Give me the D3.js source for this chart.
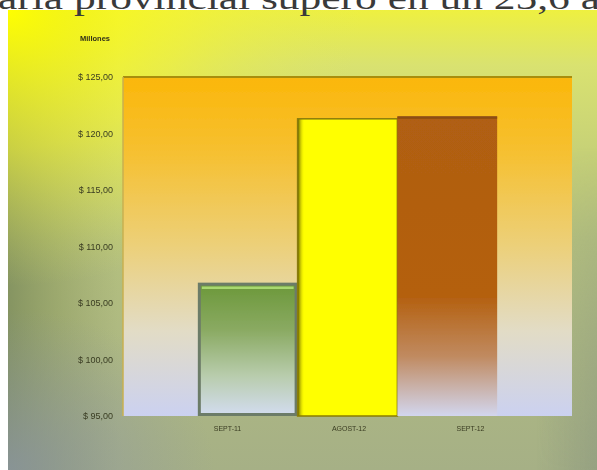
<!DOCTYPE html>
<html>
<head>
<meta charset="utf-8">
<style>
body { margin: 0px; background: #fff; }
svg { display: block; }
</style>
</head>
<body>
<div id="elm"></div>
<script src="https://cdn.jsdelivr.net/npm/d3@7/dist/d3.min.js"></script>
<script>
'use strict';

// data
var categories = ['SEPT-11', 'AGOST-12', 'SEPT-12'];
var values = [106.8, 121.3, 121.5];
var yTicks = [95, 100, 105, 110, 115, 120, 125];
var headline = 'aria provincial superó en un 25,6 a';
var unitLabel = 'Millones';

var W = 597, H = 470;
var svg = d3.select('#elm').append('svg').attr('width', W).attr('height', H);
var defs = svg.append('defs');

function linGrad(id, stops, x2, y2) {
  var g = defs.append('linearGradient').attr('id', id)
    .attr('x1', 0).attr('y1', 0).attr('x2', x2 || 0).attr('y2', y2 === undefined ? 1 : y2);
  stops.forEach(function (s) {
    g.append('stop').attr('offset', s[0]).attr('stop-color', s[1]).attr('stop-opacity', s[2] === undefined ? 1 : s[2]);
  });
  return 'url(#' + id + ')';
}

var bgFill = linGrad('bg', [[0, '#eef040'], [0.12, '#d9e270'], [0.5, '#b4c07e'], [1, '#a6b086']]);
var bgLeft = linGrad('bgl', [[0, '#7a8a5a', 0.8], [0.5, '#849258', 0.4], [1, '#8a9460', 0]], 1, 0);
var bgRight = linGrad('bgr', [[0, '#909c80', 0], [1, '#909c80', 0.75]], 1, 0);
var maskV = linGrad('mv', [[0, '#000'], [0.3, '#000'], [1, '#fff']]);
var plotFill = linGrad('plot', [[0, '#fbb70a'], [0.22, '#f6c030'], [0.5, '#ecd07a'], [0.75, '#e2dcc6'], [1, '#cbd1f0']]);
var bar1Fill = linGrad('b1', [[0, '#6c983a'], [0.35, '#8aaa62'], [0.7, '#b8ccac'], [1, '#d2dcee']]);
var bar2Edge = linGrad('b2e', [[0, '#5e5800'], [1, '#ffff00', 0]], 1, 0);
var bar3Fill = linGrad('b3', [[0, '#b05e12'], [0.6, '#b4600f'], [0.8, '#c08a60'], [1, '#d2d6ee']]);

var yellow = defs.append('radialGradient').attr('id', 'yl')
  .attr('cx', 0).attr('cy', 0).attr('r', 0.6);
yellow.append('stop').attr('offset', 0).attr('stop-color', '#ffff00').attr('stop-opacity', 1);
yellow.append('stop').attr('offset', 0.5).attr('stop-color', '#f4f430').attr('stop-opacity', 0.6);
yellow.append('stop').attr('offset', 1).attr('stop-color', '#e0e860').attr('stop-opacity', 0);

var bottomShade = defs.append('radialGradient').attr('id', 'bs')
  .attr('cx', 0).attr('cy', 1).attr('r', 0.35);
bottomShade.append('stop').attr('offset', 0).attr('stop-color', '#8a94a6').attr('stop-opacity', 0.75);
bottomShade.append('stop').attr('offset', 1).attr('stop-color', '#8a94a0').attr('stop-opacity', 0);

var blur = defs.append('filter').attr('id', 'soft');
blur.append('feGaussianBlur').attr('stdDeviation', 0.55);

var bw = W - 8, bh = H - 10;
defs.append('mask').attr('id', 'rightMask').attr('maskUnits', 'userSpaceOnUse')
  .append('rect').attr('x', bw - 60).attr('width', 60).attr('height', bh).attr('fill', maskV);

// photographed slide background
var bg = svg.append('g').attr('transform', 'translate(8,10)');
bg.append('rect').attr('width', bw).attr('height', bh).attr('fill', bgFill);
bg.append('rect').attr('width', 110).attr('height', bh).attr('fill', bgLeft);
bg.append('rect').attr('x', bw - 60).attr('width', 60).attr('height', bh).attr('fill', bgRight)
  .attr('mask', 'url(#rightMask)');
bg.append('rect').attr('width', bw).attr('height', bh).attr('fill', 'url(#bs)');
bg.append('rect').attr('width', bw).attr('height', bh).attr('fill', 'url(#yl)');

// headline cut off at the top
svg.append('text').attr('x', -2).attr('y', 9)
  .attr('font-family', "'Liberation Serif', 'DejaVu Serif', serif")
  .attr('font-size', 31).attr('fill', '#3a3a3a')
  .attr('textLength', 602).attr('lengthAdjust', 'spacingAndGlyphs')
  .text(headline);

var plot = { left: 123, right: 572, top: 77, bottom: 416 };

var y = d3.scaleLinear().domain([95, 125]).range([plot.bottom, plot.top]);
var x = d3.scaleBand().domain(categories).range([plot.left, plot.right])
  .paddingInner(0).paddingOuter(0.75);
// the labels sit a bit wider apart than the bars in the photo
var xl = d3.scalePoint().domain(categories).range([227, 470]);

var chart = svg.append('g').attr('filter', 'url(#soft)');

chart.append('rect')
  .attr('x', plot.left).attr('y', plot.top)
  .attr('width', plot.right - plot.left).attr('height', plot.bottom - plot.top)
  .attr('fill', plotFill);
chart.append('line')
  .attr('x1', plot.left).attr('x2', plot.right).attr('y1', plot.top).attr('y2', plot.top)
  .attr('stroke', '#a88e10').attr('stroke-width', 2);
chart.append('line')
  .attr('x1', plot.left).attr('x2', plot.left).attr('y1', plot.top).attr('y2', plot.bottom)
  .attr('stroke', '#c8b050').attr('stroke-width', 1.5);

var bars = chart.selectAll('g.bar').data(categories).enter().append('g').attr('class', 'bar');

bars.each(function (c, i) {
  var g = d3.select(this);
  var x0 = x(c), bwid = x.bandwidth(), top = y(values[i]), h = plot.bottom - top;
  if (i === 0) {
    g.append('rect').attr('x', x0 + 1.5).attr('y', top + 1.5).attr('width', bwid - 3).attr('height', h - 3)
      .attr('fill', bar1Fill).attr('stroke', '#6c7c68').attr('stroke-width', 3);
    g.append('line').attr('x1', x0 + 4).attr('x2', x0 + bwid - 4).attr('y1', top + 5).attr('y2', top + 5)
      .attr('stroke', '#a8d870').attr('stroke-width', 2.5);
  } else if (i === 1) {
    g.append('rect').attr('x', x0).attr('y', top).attr('width', bwid).attr('height', h)
      .attr('fill', '#ffff00');
    g.append('rect').attr('x', x0).attr('y', top).attr('width', 7).attr('height', h)
      .attr('fill', bar2Edge);
    g.append('rect').attr('x', x0).attr('y', top).attr('width', bwid).attr('height', h)
      .attr('fill', 'none').attr('stroke', '#8a7c08').attr('stroke-width', 1.5);
  } else {
    g.append('rect').attr('x', x0).attr('y', top).attr('width', bwid).attr('height', h)
      .attr('fill', bar3Fill);
    g.append('line').attr('x1', x0).attr('x2', x0 + bwid).attr('y1', top + 1).attr('y2', top + 1)
      .attr('stroke', '#8c4e12').attr('stroke-width', 2.5);
  }
});

var fmt = d3.format('.2f');
var yAxis = d3.axisLeft(y).tickValues(yTicks).tickSize(0).tickPadding(10)
  .tickFormat(function (d) { return '$ ' + fmt(d).replace('.', ','); });
var ya = chart.append('g').attr('transform', 'translate(' + plot.left + ',0)').call(yAxis);
ya.select('.domain').remove();
ya.selectAll('text')
  .attr('font-family', "'Liberation Sans Narrow', 'Liberation Sans', Arial, sans-serif")
  .attr('font-size', 9).attr('fill', '#3a3c22');

var xAxis = d3.axisBottom(xl).tickSize(0).tickPadding(10);
var xa = chart.append('g').attr('transform', 'translate(0,' + plot.bottom + ')').call(xAxis);
xa.select('.domain').remove();
xa.selectAll('text')
  .attr('font-family', "'Liberation Sans Narrow', 'Liberation Sans', Arial, sans-serif")
  .attr('font-size', 7).attr('fill', '#3a3c22');

chart.append('text').attr('x', 80).attr('y', 41)
  .attr('font-family', "'Liberation Sans', Arial, sans-serif")
  .attr('font-size', 7.5).attr('font-weight', 'bold').attr('fill', '#303018')
  .text(unitLabel);
</script>
</body>
</html>
